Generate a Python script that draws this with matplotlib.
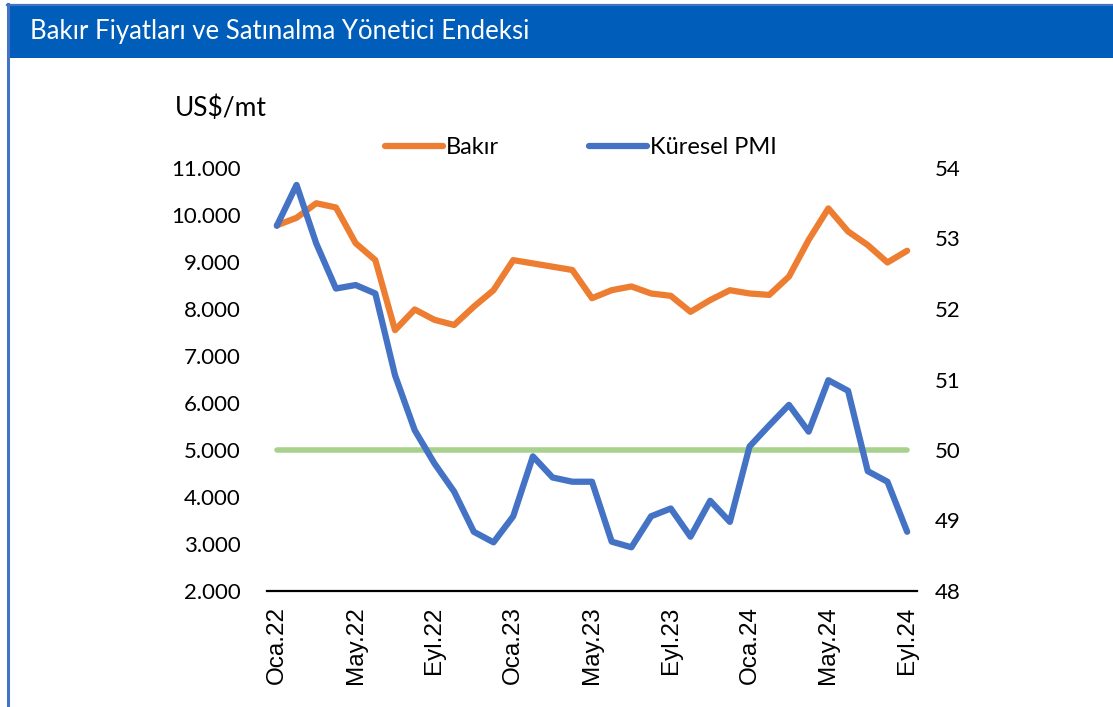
import matplotlib
matplotlib.use("Agg")

import numpy as np
import matplotlib.pyplot as plt
import matplotlib.patches as patches

# monthly series, Oca.22 .. Eyl.24
months = ["Oca.22", "Şub.22", "Mar.22", "Nis.22", "May.22", "Haz.22", "Tem.22", "Ağu.22",
          "Eyl.22", "Eki.22", "Kas.22", "Ara.22", "Oca.23", "Şub.23", "Mar.23", "Nis.23",
          "May.23", "Haz.23", "Tem.23", "Ağu.23", "Eyl.23", "Eki.23", "Kas.23", "Ara.23",
          "Oca.24", "Şub.24", "Mar.24", "Nis.24", "May.24", "Haz.24", "Tem.24", "Ağu.24",
          "Eyl.24"]
bakir = [9780, 9940, 10250, 10160, 9400, 9040, 7550, 7990, 7770, 7660, 8050, 8400,
         9040, 8970, 8900, 8830, 8230, 8400, 8480, 8330, 8280, 7940, 8190, 8400,
         8330, 8300, 8690, 9470, 10140, 9650, 9360, 8990, 9240]
pmi = [53.18, 53.76, 52.93, 52.29, 52.34, 52.22, 51.06, 50.28, 49.81, 49.41, 48.84, 48.69,
       49.06, 49.91, 49.61, 49.55, 49.55, 48.70, 48.62, 49.06, 49.17, 48.77, 49.28, 48.98,
       50.05, 50.35, 50.64, 50.26, 50.99, 50.84, 49.70, 49.55, 48.84]
esik = 50

left_ticks = list(range(2000, 11001, 1000))
right_ticks = list(range(48, 55))

ORANGE = "#ED7D31"
BLUE = "#4472C4"
GREEN = "#A9D18E"
HEADER = "#005DB9"
FONT = "Lato"

W, H = 1113, 707
fig = plt.figure(figsize=(W / 100, H / 100), dpi=100)

# header band and frame
fig.add_artist(patches.Rectangle((7 / W, 1 - 58 / H), 1 - 7 / W, 53 / H,
                                 transform=fig.transFigure, facecolor=HEADER, edgecolor="none"))
fig.add_artist(plt.Line2D([7 / W, 1], [1 - 4.5 / H, 1 - 4.5 / H], transform=fig.transFigure,
                          color=BLUE, lw=1.6))
fig.add_artist(plt.Line2D([8 / W, 8 / W], [0, 1 - 4 / H], transform=fig.transFigure,
                          color=BLUE, lw=2.2))
fig.text(30 / W, 1 - 31 / H, "Bakır Fiyatları ve Satınalma Yönetici Endeksi",
         color="white", fontsize=18.5, family=FONT, va="center", ha="left")

ax = fig.add_axes([267 / W, 1 - 591 / H, 650 / W, 423 / H])
ax2 = ax.twinx()

x = np.arange(len(months))
ln1, = ax.plot(x, bakir, color=ORANGE, lw=4.5, solid_capstyle="round", solid_joinstyle="round",
               label="Bakır", zorder=3)
ln2, = ax2.plot(x, pmi, color=BLUE, lw=4.5, solid_capstyle="round", solid_joinstyle="round",
                label="Küresel PMI", zorder=3)
ax2.plot(x, [esik] * len(x), color=GREEN, lw=4, solid_capstyle="round", zorder=2)

ax.set_xlim(-0.5, len(months) - 0.5)
ax.set_ylim(2000, 11000)
ax2.set_ylim(48, 54)

ax.set_yticks(left_ticks)
ax.set_yticklabels([f"{v:,}".replace(",", ".") for v in left_ticks])
ax2.set_yticks(right_ticks)
ax2.set_yticklabels([str(v) for v in right_ticks])

ax.set_xticks(x[::4])
ax.set_xticklabels(months[::4], rotation=90, family="Liberation Sans", fontsize=17.5)

for a in (ax, ax2):
    for s in ("top", "left", "right", "bottom"):
        a.spines[s].set_visible(False)
    a.tick_params(length=0)
ax.spines["bottom"].set_visible(True)
ax.spines["bottom"].set_linewidth(1.6)
ax.tick_params(axis="y", labelsize=16, pad=19)
ax2.tick_params(axis="y", labelsize=16, pad=13)
ax.tick_params(axis="x", pad=11)
for lab in ax.get_yticklabels() + ax2.get_yticklabels():
    lab.set_family(FONT)

fig.text(175 / W, 1 - 108 / H, "US$/mt", fontsize=19, family=FONT, va="center", ha="left")

leg = ax.legend([ln1, ln2], ["Bakır", "Küresel PMI"], loc="center",
                bbox_to_anchor=(581 / W, 1 - 148 / H), bbox_transform=fig.transFigure,
                ncol=2, frameon=False, handlelength=2.45, handletextpad=0.13,
                columnspacing=3.8, prop={"family": FONT, "size": 17})

fig.savefig("out.png", dpi=100)
plt.close(fig)
